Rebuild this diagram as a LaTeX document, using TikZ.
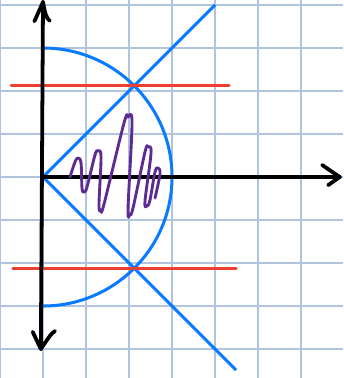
\documentclass[tikz,border=0pt]{standalone}
\begin{document}
\begin{tikzpicture}[x=1cm,y=1cm,
  gridline/.style={draw={rgb,255:red,176;green,196;blue,224},line width=0.9pt},
  axis/.style={draw=black,line width=2.5pt,line cap=round,line join=round},
  blueline/.style={draw={rgb,255:red,10;green,122;blue,255},line width=2pt},
  redline/.style={draw={rgb,255:red,238;green,62;blue,48},line width=2pt,line cap=round},
  squiggle/.style={draw={rgb,255:red,92;green,44;blue,146},line width=1.9pt,line cap=round,line join=round}]
\useasboundingbox (-1,-4.674) rectangle (6.977,4.116);
\fill[white] (-1,-4.674) rectangle (6.977,4.116);
% grid
\foreach \x in {-1,0,...,6} \draw[gridline] (\x,-4.674) -- (\x,4.116);
\foreach \y in {-4,-3,...,4} \draw[gridline] (-1,\y) -- (6.977,\y);
% coordinates
\coordinate (O) at (0,0);
\coordinate (ytop) at (0,4.07);
\coordinate (ybot) at (-0.05,-4.0);
\coordinate (xend) at (6.9,0);
\coordinate (D1) at (4,4);
\coordinate (D2) at (4.49,-4.49);
\coordinate (R1a) at (-0.74,2.121);
\coordinate (R1b) at (4.33,2.121);
\coordinate (R2a) at (-0.70,-2.121);
\coordinate (R2b) at (4.49,-2.121);
% semicircle and diagonals
\draw[blueline] (0,3) arc[start angle=90,end angle=-90,radius=3];
\draw[blueline] (O) -- (D1);
\draw[blueline] (O) -- (D2);
% red lines
\draw[redline] (R1a) -- (R1b);
\draw[redline] (R2a) -- (R2b);
% axes
\draw[axis] (ybot) -- (ytop);
\draw[axis] (O) -- (xend);
% hand-drawn arrowheads
\draw[axis] (-0.2,3.62) -- (ytop) .. controls (0.05,3.8) and (0.08,3.68) .. (0.16,3.63);
\draw[axis] (-0.24,-3.6) -- (ybot) .. controls (0.1,-3.78) and (0.2,-3.62) .. (0.28,-3.58);
\draw[axis] (6.49,0.28) -- (xend) -- (6.63,-0.19);
% squiggle
\draw[squiggle] plot[smooth,tension=0.6] coordinates {
 (0.628,0) (0.744,0.349) (0.814,0.442) (0.884,0.326)
 (0.907,-0.256) (0.953,-0.349) (1.023,-0.233)
 (1.209,0.512) (1.279,0.605) (1.349,0.465)
 (1.302,-0.651) (1.349,-0.767) (1.419,-0.628)
 (1.884,1.256) (1.977,1.395) (2.070,1.256)
 (1.977,-0.744) (2.023,-0.860) (2.093,-0.721)
 (2.372,0.581) (2.442,0.698) (2.512,0.558)
 (2.372,-0.558) (2.419,-0.674) (2.488,-0.535)
 (2.605,0.116) (2.674,0.209) (2.721,0.070) (2.605,-0.488)};
\end{tikzpicture}
\end{document}
